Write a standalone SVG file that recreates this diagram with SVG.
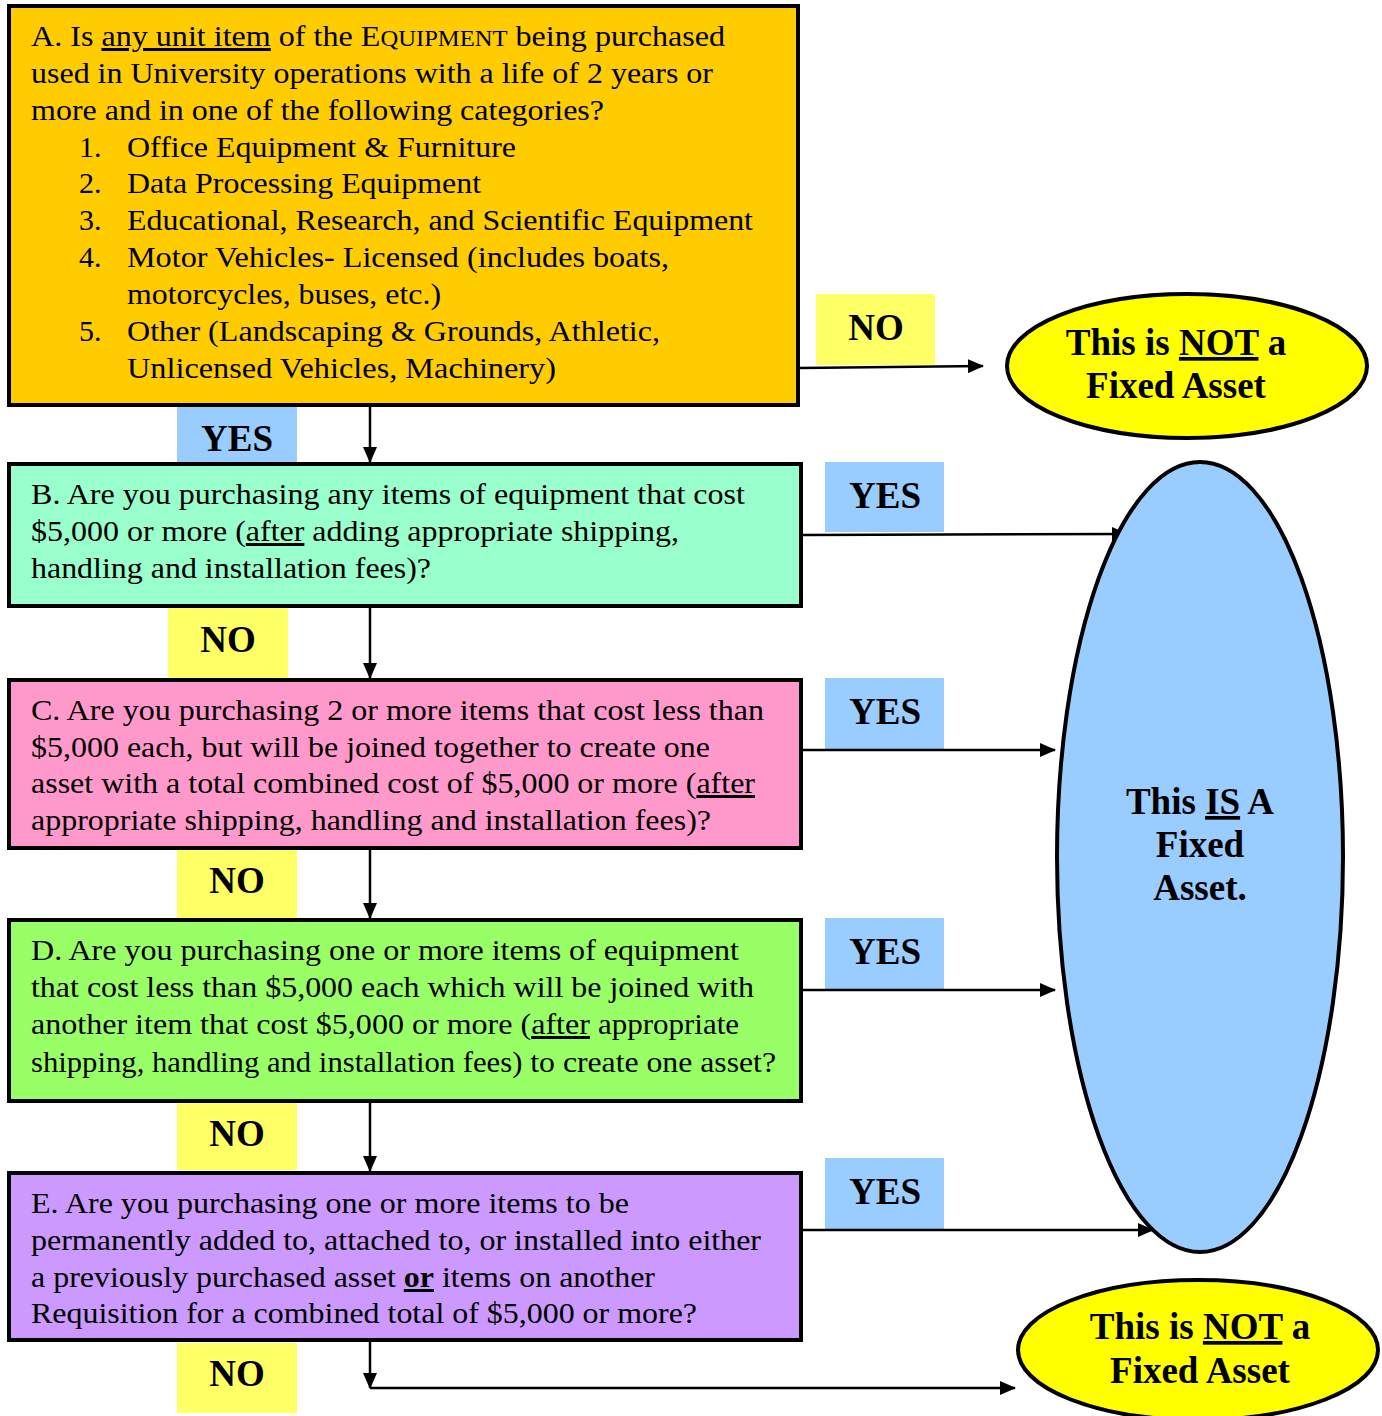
<svg xmlns="http://www.w3.org/2000/svg" width="1382" height="1416" viewBox="0 0 1382 1416">
<defs>
<style>
.box{stroke:#000;stroke-width:4}
.t{font-family:"Liberation Serif","Times New Roman",serif;font-size:30px;fill:#000}
.lbl{font-family:"Liberation Serif","Times New Roman",serif;font-size:37px;font-weight:bold;fill:#000;text-anchor:middle}
.ell{font-family:"Liberation Serif","Times New Roman",serif;font-size:37px;font-weight:bold;fill:#000;text-anchor:middle}
.u{text-decoration:underline}
.sc{font-size:23px}
.g{font-size:29px}
.c{stroke:#000;stroke-width:2.5;fill:none}
</style>
<marker id="ahb" markerWidth="16" markerHeight="14" refX="15" refY="7" orient="auto" markerUnits="userSpaceOnUse" viewBox="0 0 16 14">
<path d="M0,0 L16,7 L0,14 Z" fill="#000"/>
</marker>
</defs>
<rect width="1382" height="1416" fill="#fff"/>

<g id="labels">
<g id="lbl-yes-a"><rect x="177" y="405" width="120" height="57" fill="#99CCFF"/><text class="lbl" x="237" y="451">YES</text></g>
<g id="lbl-no-b"><rect x="168" y="607" width="120" height="71" fill="#FFFF66"/><text class="lbl" x="228" y="652">NO</text></g>
<g id="lbl-no-c"><rect x="177" y="849" width="120" height="69" fill="#FFFF66"/><text class="lbl" x="237" y="893">NO</text></g>
<g id="lbl-no-d"><rect x="177" y="1102" width="120" height="68" fill="#FFFF66"/><text class="lbl" x="237" y="1146">NO</text></g>
<g id="lbl-no-e"><rect x="177" y="1343" width="120" height="70" fill="#FFFF66"/><text class="lbl" x="237" y="1386">NO</text></g>
<g id="lbl-no-a"><rect x="816" y="294" width="119" height="71" fill="#FFFF66"/><text class="lbl" x="876" y="340">NO</text></g>
<g id="lbl-yes-b"><rect x="825" y="462" width="119" height="70" fill="#99CCFF"/><text class="lbl" x="885" y="508">YES</text></g>
<g id="lbl-yes-c"><rect x="825" y="678" width="119" height="71" fill="#99CCFF"/><text class="lbl" x="885" y="724">YES</text></g>
<g id="lbl-yes-d"><rect x="825" y="918" width="119" height="71" fill="#99CCFF"/><text class="lbl" x="885" y="964">YES</text></g>
<g id="lbl-yes-e"><rect x="825" y="1158" width="119" height="71" fill="#99CCFF"/><text class="lbl" x="885" y="1204">YES</text></g>
</g>

<g id="connectors">
<line class="c" x1="370" y1="406" x2="370" y2="462" marker-end="url(#ahb)"/>
<line class="c" x1="370" y1="607" x2="370" y2="678" marker-end="url(#ahb)"/>
<line class="c" x1="370" y1="849" x2="370" y2="918" marker-end="url(#ahb)"/>
<line class="c" x1="370" y1="1102" x2="370" y2="1171" marker-end="url(#ahb)"/>
<line class="c" x1="370" y1="1341" x2="370" y2="1388" marker-end="url(#ahb)"/>
<line class="c" x1="370" y1="1388" x2="1015" y2="1388" marker-end="url(#ahb)"/>
<line class="c" x1="800" y1="368" x2="983" y2="366" marker-end="url(#ahb)"/>
<line class="c" x1="803" y1="535" x2="1127" y2="534" stroke-width="4" marker-end="url(#ahb)"/>
<line class="c" x1="803" y1="750" x2="1055" y2="750" stroke-width="3.5" marker-end="url(#ahb)"/>
<line class="c" x1="803" y1="990" x2="1055" y2="990" stroke-width="3.5" marker-end="url(#ahb)"/>
<line class="c" x1="803" y1="1230" x2="1153" y2="1230" stroke-width="3.5" marker-end="url(#ahb)"/>
</g>

<g id="node-a">
<rect class="box" x="9" y="6" width="789" height="399" fill="#FFCC00"/>
<text class="t" x="31" y="46" textLength="694" lengthAdjust="spacingAndGlyphs">A. Is <tspan class="u">any unit item</tspan> of the E<tspan class="sc">QUIPMENT</tspan> being purchased</text>
<text class="t" x="31" y="83" textLength="682" lengthAdjust="spacingAndGlyphs">used in University operations with a life of 2 years or</text>
<text class="t" x="31" y="120" textLength="573" lengthAdjust="spacingAndGlyphs">more and in one of the following categories?</text>
<text class="t" x="79" y="157">1.</text><text class="t" x="127" y="157" textLength="389" lengthAdjust="spacingAndGlyphs">Office Equipment &amp; Furniture</text>
<text class="t" x="79" y="193">2.</text><text class="t" x="127" y="193" textLength="354" lengthAdjust="spacingAndGlyphs">Data Processing Equipment</text>
<text class="t" x="79" y="230">3.</text><text class="t" x="127" y="230" textLength="626" lengthAdjust="spacingAndGlyphs">Educational, Research, and Scientific Equipment</text>
<text class="t" x="79" y="267">4.</text><text class="t" x="127" y="267" textLength="542" lengthAdjust="spacingAndGlyphs">Motor Vehicles- Licensed (includes boats,</text>
<text class="t" x="127" y="304" textLength="314" lengthAdjust="spacingAndGlyphs">motorcycles, buses, etc.)</text>
<text class="t" x="79" y="341">5.</text><text class="t" x="127" y="341" textLength="533" lengthAdjust="spacingAndGlyphs">Other (Landscaping &amp; Grounds, Athletic,</text>
<text class="t" x="127" y="378" textLength="429" lengthAdjust="spacingAndGlyphs">Unlicensed Vehicles, Machinery)</text>
</g>

<g id="node-b">
<rect class="box" x="9" y="464" width="792" height="142" fill="#99FFCC"/>
<text class="t" x="31" y="504" textLength="714" lengthAdjust="spacingAndGlyphs">B. Are you purchasing any items of equipment that cost</text>
<text class="t" x="31" y="541" textLength="648" lengthAdjust="spacingAndGlyphs">$5,000 or more (<tspan class="u">after</tspan> adding appropriate shipping,</text>
<text class="t" x="31" y="578" textLength="400" lengthAdjust="spacingAndGlyphs">handling and installation fees)?</text>
</g>

<g id="node-c">
<rect class="box" x="9" y="680" width="792" height="168" fill="#FF99CC"/>
<text class="t" x="31" y="720" textLength="733" lengthAdjust="spacingAndGlyphs">C. Are you purchasing 2 or more items that cost less than</text>
<text class="t" x="31" y="757" textLength="679" lengthAdjust="spacingAndGlyphs">$5,000 each, but will be joined together to create one</text>
<text class="t" x="31" y="793" textLength="724" lengthAdjust="spacingAndGlyphs">asset with a total combined cost of $5,000 or more (<tspan class="u">after</tspan></text>
<text class="t" x="31" y="830" textLength="680" lengthAdjust="spacingAndGlyphs">appropriate shipping, handling and installation fees)?</text>
</g>

<g id="node-d">
<rect class="box" x="9" y="920" width="792" height="181" fill="#99FF66"/>
<text class="t" x="31" y="960" textLength="708" lengthAdjust="spacingAndGlyphs">D. Are you purchasing one or more items of equipment</text>
<text class="t" x="31" y="997" textLength="723" lengthAdjust="spacingAndGlyphs">that cost less than $5,000 each which will be joined with</text>
<text class="t" x="31" y="1034" textLength="708" lengthAdjust="spacingAndGlyphs">another item that cost $5,000 or more (<tspan class="u">after</tspan> <tspan class="g">appropriate</tspan></text>
<text class="t" x="31" y="1072" textLength="745" lengthAdjust="spacingAndGlyphs"><tspan class="g">shipping, handling and installation fees)</tspan> to create one asset?</text>
</g>

<g id="node-e">
<rect class="box" x="9" y="1173" width="792" height="167" fill="#CC99FF"/>
<text class="t" x="31" y="1213" textLength="598" lengthAdjust="spacingAndGlyphs">E. Are you purchasing one or more items to be</text>
<text class="t" x="31" y="1250" textLength="730" lengthAdjust="spacingAndGlyphs">permanently added to, attached to, or installed into either</text>
<text class="t" x="31" y="1287" textLength="624" lengthAdjust="spacingAndGlyphs">a previously purchased asset <tspan class="u" font-weight="bold">or</tspan> items on another</text>
<text class="t" x="31" y="1323" textLength="666" lengthAdjust="spacingAndGlyphs">Requisition for a combined total of $5,000 or more?</text>
</g>

<g id="node-not-top">
<ellipse cx="1187" cy="366" rx="180" ry="72" fill="#FFFF00" stroke="#000" stroke-width="4"/>
<text class="ell" x="1176" y="355">This is <tspan class="u">NOT</tspan> a</text>
<text class="ell" x="1176" y="398">Fixed Asset</text>
</g>

<g id="node-is">
<ellipse cx="1200" cy="857" rx="143" ry="395" fill="#99CCFF" stroke="#000" stroke-width="4"/>
<text class="ell" x="1200" y="814">This <tspan class="u">IS</tspan> A</text>
<text class="ell" x="1200" y="857">Fixed</text>
<text class="ell" x="1200" y="900">Asset.</text>
</g>

<g id="node-not-bottom">
<ellipse cx="1198" cy="1350" rx="180" ry="70" fill="#FFFF00" stroke="#000" stroke-width="4"/>
<text class="ell" x="1200" y="1339">This is <tspan class="u">NOT</tspan> a</text>
<text class="ell" x="1200" y="1383">Fixed Asset</text>
</g>
</svg>
